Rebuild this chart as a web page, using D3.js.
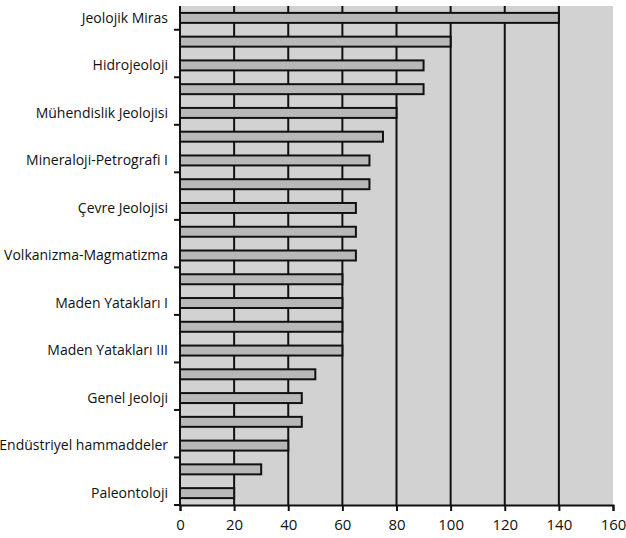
<!DOCTYPE html>
<html lang="tr">
<head>
<meta charset="UTF-8">
<title>Bar chart</title>
<script src="https://cdn.jsdelivr.net/npm/d3@7"></script>
<style>
  body { margin: 0; background: #fff; }
  svg { display: block; font-family: "Open Sans", sans-serif; }
</style>
</head>
<body>
<div id="chart"></div>
<script>
// bars top to bottom; only every second bar carries a label in the source
const values = [140, 100, 90, 90, 80, 75, 70, 70, 65, 65, 65, 60, 60, 60, 60, 50, 45, 45, 40, 30, 20];
const labels = [
  "Jeolojik Miras", "Hidrojeoloji", "Mühendislik Jeolojisi", "Mineraloji-Petrografi I",
  "Çevre Jeolojisi", "Volkanizma-Magmatizma", "Maden Yatakları I", "Maden Yatakları III",
  "Genel Jeoloji", "Endüstriyel hammaddeler", "Paleontoloji"
];
const xTicks = [0, 20, 40, 60, 80, 100, 120, 140, 160];

const width = 626, height = 538;
const margin = { top: 6, right: 13, bottom: 33, left: 180 };
const w = width - margin.left - margin.right;
const h = height - margin.top - margin.bottom;

const svg = d3.select("#chart").append("svg")
  .attr("width", width)
  .attr("height", height);

const g = svg.append("g")
  .attr("transform", `translate(${margin.left},${margin.top})`);

const x = d3.scaleLinear().domain([0, 160]).range([0, w]);
const y = d3.scaleBand().domain(d3.range(values.length)).range([0, h]).paddingInner(0.58).paddingOuter(0.29);
const step = y.step();

// plot area
g.append("rect")
  .attr("width", w).attr("height", h)
  .attr("fill", "#d2d2d2");

// vertical gridlines
g.append("g")
  .selectAll("line")
  .data(xTicks.slice(1, -1))
  .join("line")
  .attr("x1", d => x(d)).attr("x2", d => x(d))
  .attr("y1", 0).attr("y2", h)
  .attr("stroke", "#111").attr("stroke-width", 2);

// bars
g.append("g")
  .selectAll("rect")
  .data(values)
  .join("rect")
  .attr("x", 0)
  .attr("y", (d, i) => y(i))
  .attr("width", d => x(d))
  .attr("height", y.bandwidth())
  .attr("fill", "#b8b8b8")
  .attr("stroke", "#111")
  .attr("stroke-width", 2);

// x axis
const xAxis = d3.axisBottom(x).tickValues(xTicks).tickSize(6).tickPadding(8);
const xg = g.append("g")
  .attr("transform", `translate(0,${h})`)
  .call(xAxis);
xg.select(".domain").attr("stroke", "#111").attr("stroke-width", 2);
xg.selectAll(".tick line").attr("stroke", "#111").attr("stroke-width", 2);
xg.selectAll("text").attr("font-size", 15).attr("fill", "#111").attr("font-family", "Open Sans, sans-serif");

// y axis: line + tick marks every two categories (counted from the bottom)
g.append("line")
  .attr("x1", 0).attr("x2", 0).attr("y1", 0).attr("y2", h)
  .attr("stroke", "#111").attr("stroke-width", 2);

const tickPos = d3.range(1, values.length + 1, 2).map(i => i * step);
g.append("g")
  .selectAll("line")
  .data(tickPos)
  .join("line")
  .attr("x1", -6).attr("x2", 0)
  .attr("y1", d => d).attr("y2", d => d)
  .attr("stroke", "#111").attr("stroke-width", 2);

g.append("g")
  .selectAll("text")
  .data(labels)
  .join("text")
  .attr("x", -12)
  .attr("y", (d, i) => y(i * 2) + y.bandwidth() / 2)
  .attr("dy", "0.35em")
  .attr("text-anchor", "end")
  .attr("font-size", 14)
  .attr("fill", "#111")
  .text(d => d);
</script>
</body>
</html>
